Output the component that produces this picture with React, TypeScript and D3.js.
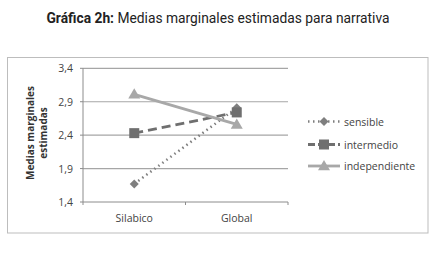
import React from "react";
import * as d3 from "d3";

const categories = ["Silabico", "Global"];
const yTicks = [1.4, 1.9, 2.4, 2.9, 3.4];
const seriesNames = ["sensible", "intermedio", "independiente"];
const sensible = [1.67, 2.81];
const intermedio = [2.43, 2.74];
const independiente = [3.01, 2.56];

const W = 436, H = 259;
const plot = { left: 83, right: 288, top: 68.3, bottom: 202 };

export default function App() {
  const x = d3.scaleBand().domain(categories).range([plot.left, plot.right]);
  const y = d3.scaleLinear().domain([1.4, 3.4]).range([plot.bottom, plot.top]);
  const line = d3.line<number>().x((_, i) => x(categories[i])! + x.bandwidth() / 2).y((d) => y(d));
  const series = [
    { name: seriesNames[0], data: sensible, color: "#7f7f7f", dash: "1.5,3.5", width: 2.5, marker: "diamond" },
    { name: seriesNames[1], data: intermedio, color: "#6f6f6f", dash: "9,5", width: 2.8, marker: "square" },
    { name: seriesNames[2], data: independiente, color: "#a8a8a8", dash: "", width: 2.8, marker: "triangle" },
  ];
  const marker = (type: string, cx: number, cy: number, color: string, key: string) => {
    if (type === "diamond") {
      const r = 4.5;
      return <path key={key} d={`M${cx},${cy - r}L${cx + r},${cy}L${cx},${cy + r}L${cx - r},${cy}Z`} fill={color} />;
    }
    if (type === "square") {
      const r = 5;
      return <rect key={key} x={cx - r} y={cy - r} width={2 * r} height={2 * r} fill={color} />;
    }
    const r = 6;
    return <path key={key} d={`M${cx},${cy - r}L${cx + r},${cy + r * 0.7}L${cx - r},${cy + r * 0.7}Z`} fill={color} />;
  };
  const font = "'Open Sans', sans-serif";
  const legendY = [121.5, 144.5, 166];
  return (
    <svg width={W} height={H} style={{ position: "absolute", left: 0, top: 0 }} fontFamily={font}>
      <rect width={W} height={H} fill="#fff" />
      <text x={218} y={22.5} textAnchor="middle" fontFamily="Roboto, sans-serif" fontSize={13.8} fill="#222">
        <tspan fontWeight="bold">Gráfica 2h:</tspan>
        <tspan> Medias marginales estimadas para narrativa</tspan>
      </text>
      <rect x={7.5} y={57.5} width={420.5} height={175.5} fill="none" stroke="#bdbdbd" strokeWidth={1} />
      {yTicks.map((t) => (
        <g key={t}>
          {t !== 1.4 && <line x1={plot.left} x2={plot.right} y1={y(t)} y2={y(t)} stroke="#a6a6a6" strokeWidth={1.2} />}
          <line x1={plot.left - 3} x2={plot.left} y1={y(t)} y2={y(t)} stroke="#8c8c8c" />
          <text x={plot.left - 10} y={y(t) + 4} textAnchor="end" fontSize={10.5} fill="#444">
            {d3.format(".1f")(t).replace(".", ",")}
          </text>
        </g>
      ))}
      <line x1={plot.left} x2={plot.left} y1={plot.top} y2={plot.bottom} stroke="#8c8c8c" />
      <line x1={plot.left} x2={plot.right} y1={plot.bottom} y2={plot.bottom} stroke="#8c8c8c" />
      {[0, 1, 2].map((i) => {
        const xx = plot.left + i * x.bandwidth();
        return <line key={i} x1={xx} x2={xx} y1={plot.bottom} y2={plot.bottom + 3} stroke="#8c8c8c" />;
      })}
      {categories.map((c) => (
        <text key={c} x={x(c)! + x.bandwidth() / 2} y={221.5} textAnchor="middle" fontSize={10.5} fill="#444">
          {c}
        </text>
      ))}
      <text transform="translate(37,133) rotate(-90)" textAnchor="middle" fontSize={10} fontWeight="bold" fill="#333">
        <tspan x={0} dy={-3}>Medias marginales</tspan>
        <tspan x={0} dy={13}>estimadas</tspan>
      </text>
      {series.map((s) => (
        <g key={s.name}>
          <path d={line(s.data)!} fill="none" stroke={s.color} strokeWidth={s.width} strokeDasharray={s.dash || undefined} />
          {s.data.map((v, i) => marker(s.marker, x(categories[i])! + x.bandwidth() / 2, y(v), s.color, s.name + i))}
        </g>
      ))}
      {series.map((s, i) => (
        <g key={"lg" + s.name}>
          <line x1={308} x2={340} y1={legendY[i]} y2={legendY[i]} stroke={s.color} strokeWidth={s.width} strokeDasharray={s.dash ? (i === 0 ? "1.5,3.5" : "7,3") : undefined} />
          {marker(s.marker, 324, legendY[i], s.color, "lm" + i)}
          <text x={344} y={legendY[i] + 4} fontSize={10.5} fill="#444">{s.name}</text>
        </g>
      ))}
    </svg>
  );
}
